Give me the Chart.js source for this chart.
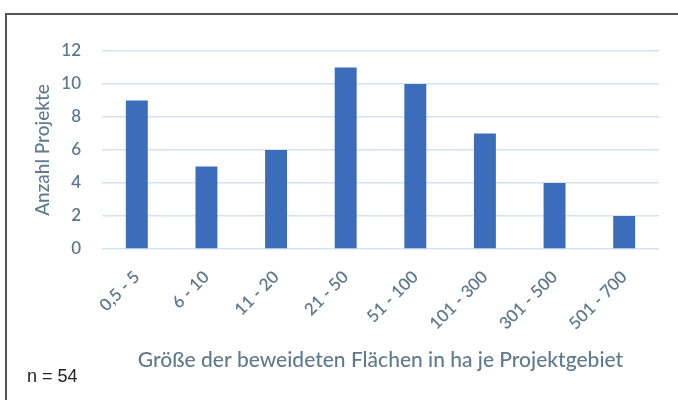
<!DOCTYPE html>
<html>
<head>
<meta charset="utf-8">
<script src="https://cdn.jsdelivr.net/npm/chart.js@4"></script>
<style>
    body { margin: 0; background: #fff; }
    #wrap { position: relative; width: 678px; height: 400px; overflow: hidden; }
    #frame { position: absolute; left: 5px; top: 13px; width: 720px; height: 420px;
             border-top: 2px solid #555; border-left: 2px solid #555; }
    #chart { position: absolute; left: 0; top: 0; }
    #n { position: absolute; left: 27px; top: 366px; font: 18px "Liberation Sans", Arial, sans-serif; color: #222; }
</style>
</head>
<body>
<div id="wrap">
    <div id="frame"></div>
    <canvas id="chart" width="678" height="400"></canvas>
    <div id="n">n = 54</div>
</div>
<script>
// Daten aus der Grafik
const kategorien = ['0,5 - 5', '6 - 10', '11 - 20', '21 - 50', '51 - 100', '101 - 300', '301 - 500', '501 - 700'];
const anzahl = [9, 5, 6, 11, 10, 7, 4, 2];
const yTicks = [0, 2, 4, 6, 8, 10, 12];

const grau = '#5f7a8e';

new Chart(document.getElementById('chart'), {
    type: 'bar',
    data: {
        labels: kategorien,
        datasets: [{
            data: anzahl,
            backgroundColor: '#3b6dbb',
            barPercentage: 0.63,
            categoryPercentage: 0.5
        }]
    },
    options: {
        responsive: false,
        animation: false,
        layout: { padding: { left: 0, right: 19, top: 51, bottom: 0 } },
        plugins: { legend: { display: false }, tooltip: { enabled: false } },
        scales: {
            x: {
                grid: { display: false, drawTicks: false },
                border: { display: false },
                ticks: {
                    color: grau, minRotation: 45, maxRotation: 45, padding: 18,
                    font: { family: 'Lato', size: 17, weight: '600' }
                },
                title: {
                    display: true, text: 'Größe der beweideten Flächen in ha je Projektgebiet',
                    color: grau, font: { family: 'Lato', size: 21, weight: '500' },
                    padding: { top: 0, bottom: 27 }
                },
                afterFit: (s) => { s.height = 151; }
            },
            y: {
                min: 0, max: 12,
                afterBuildTicks: (s) => { s.ticks = yTicks.map(v => ({ value: v })); },
                grid: { color: '#d6e2ec', lineWidth: 1.5, drawTicks: false },
                border: { display: false },
                ticks: { color: grau, padding: 21, font: { family: 'Lato', size: 17, weight: '600' } },
                title: {
                    display: true, text: 'Anzahl Projekte',
                    color: grau, font: { family: 'Lato', size: 19, weight: '500' },
                    padding: { top: 31, bottom: 0 }
                },
                afterFit: (s) => { s.width = 102; }
            }
        }
    }
});
</script>
</body>
</html>
